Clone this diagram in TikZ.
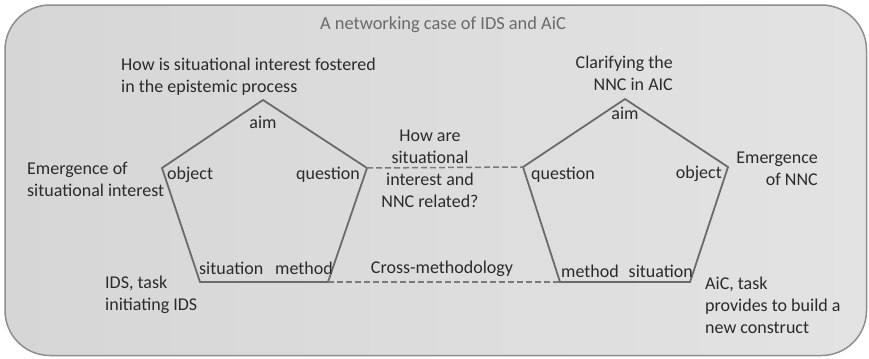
\documentclass[tikz,border=0pt]{standalone}
\usepackage{fontspec}
\setmainfont{Carlito}
\definecolor{txtc}{HTML}{2B2B2B}
\definecolor{titc}{HTML}{6A6A6A}
\definecolor{pentc}{HTML}{6B6B6B}
\definecolor{dashc}{HTML}{7A7A7A}
\definecolor{framec}{HTML}{8E8E8E}
\definecolor{bgl}{HTML}{D6D6D6}
\definecolor{bgr}{HTML}{E3E3E3}
\newcommand{\lbfont}{\fontsize{18bp}{22bp}\selectfont}
\newcommand{\ttlfont}{\fontsize{18.4bp}{22bp}\selectfont}
\tikzset{
  frame/.style={draw=framec, line width=1.5bp, rounded corners=45bp, left color=bgl, right color=bgr},
  pent/.style={draw=pentc, line width=1.8bp, line join=miter},
  link/.style={draw=dashc, line width=1.5bp, dash pattern=on 6bp off 3bp},
  lbl/.style={font=\lbfont, text=txtc, inner sep=0pt},
  ttl/.style={font=\ttlfont, text=titc, inner sep=0pt},
}
\begin{document}
\begin{tikzpicture}[x=1bp, y=-1bp]
\useasboundingbox (0,0) rectangle (869,358);
\path[frame] (5,5) rectangle (866.5,355.5);
\node[ttl, anchor=base] (title) at (443,29) {A networking case of IDS and AiC};
% left pentagon
\coordinate (A1) at (263,100);
\coordinate (Q1) at (367,168);
\coordinate (M1) at (328,282);
\coordinate (S1) at (200,282);
\coordinate (O1) at (162,168);
% right pentagon
\coordinate (A2) at (625,99);
\coordinate (O2) at (728,167);
\coordinate (S2) at (690,282);
\coordinate (M2) at (560,282);
\coordinate (Q2) at (523,167);
\draw[pent] (A1) -- (Q1) -- (M1) -- (S1) -- (O1) -- cycle;
\draw[pent] (A2) -- (O2) -- (S2) -- (M2) -- (Q2) -- cycle;
\draw[link] (Q1) -- (Q2);
\draw[link] (M1) -- (M2);
% left labels
\node[lbl, anchor=base] (aim1) at (263,128) {aim};
\node[lbl, anchor=base west] (obj1) at (167,179) {object};
\node[lbl, anchor=base east] (que1) at (360,179) {question};
\node[lbl, anchor=base west] (sit1) at (199,274) {situation};
\node[lbl, anchor=base east] (met1) at (333,274) {method};
% right labels
\node[lbl, anchor=base] (aim2) at (625,119) {aim};
\node[lbl, anchor=base west] (que2) at (531,179) {question};
\node[lbl, anchor=base east] (obj2) at (722,178) {object};
\node[lbl, anchor=base west] (met2) at (561,277) {method};
\node[lbl, anchor=base east] (sit2) at (693,277) {situation};
% external texts (base = baseline of last line)
\node[lbl, anchor=base west, align=left] (howis) at (121,92) {How is situational interest fostered\\in the epistemic process};
\node[lbl, anchor=base west, align=left] (emsi) at (27,196) {Emergence of\\situational interest};
\node[lbl, anchor=base west, align=left] (ids) at (105,310) {IDS, task\\initiating IDS};
\node[lbl, anchor=base, align=center] (howare) at (430,207) {How are\\situational\\interest and\\NNC related?};
\node[lbl, anchor=base] (cross) at (442,273) {Cross-methodology};
\node[lbl, anchor=base east, align=right] (clar) at (673,90) {Clarifying the\\NNC in AIC};
\node[lbl, anchor=base east, align=right] (emnnc) at (818,185) {Emergence\\of NNC};
\node[lbl, anchor=base west, align=left] (aic) at (705,333) {AiC, task\\provides to build a\\new construct};
\end{tikzpicture}
\end{document}
